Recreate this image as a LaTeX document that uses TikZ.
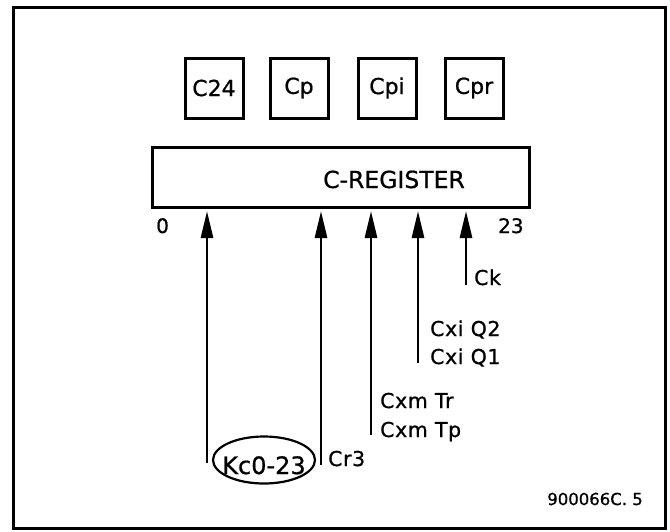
\documentclass[tikz,border=0pt]{standalone}
\usepackage{fontspec}
\setmainfont{DejaVu Sans}[FakeBold=0.8]
\newfontfamily\spacedfont{DejaVu Sans}[LetterSpace=3,FakeBold=0.8]
\usetikzlibrary{arrows.meta,shapes.geometric}
\begin{document}
\begin{tikzpicture}[x=1pt,y=-1pt,
  frame/.style={line width=3pt},
  cbox/.style={draw,line width=3pt,minimum width=58pt,minimum height=60pt,inner sep=0pt,font=\fontsize{22}{26}\selectfont},
  reg/.style={draw,line width=3pt,minimum width=377pt,minimum height=60pt,inner sep=0pt},
  sig/.style={line width=2.7pt,-{Triangle[length=27pt,width=12pt]}},
  lbl/.style={anchor=base west,inner sep=0pt,font=\spacedfont\fontsize{20.5}{24}\selectfont},
  num/.style={inner sep=0pt,font=\fontsize{20}{24}\selectfont},
]
\useasboundingbox (0,0) rectangle (670,531);
\draw[frame] (13,7) rectangle (665,528);
% top boxes
\node[cbox] (c24) at (214,88) {C24};
\node[cbox] (cp) at (299,88) {Cp};
\node[cbox] (cpi) at (387,88) {Cpi};
\node[cbox] (cpr) at (474,88) {Cpr};
% register
\node[reg] (reg) at (340.5,177) {};
\node[inner sep=0pt,anchor=base,font=\fontsize{23.5}{28}\selectfont] (regtxt) at (394,188) {C-REGISTER};
\node[num,anchor=base west] (n0) at (156,233) {0};
\node[num,anchor=base west] (n23) at (498,233) {23};
% arrow end points
\coordinate (t1) at (207,211);
\coordinate (t2) at (321,211);
\coordinate (t3) at (371,211);
\coordinate (t4) at (418,211);
\coordinate (t5) at (466,211);
\coordinate (s1) at (207,463);
\coordinate (s2) at (321,465);
\coordinate (s3) at (371,435);
\coordinate (s4) at (418,363);
\coordinate (s5) at (466,285);
\draw[sig] (s1) -- (t1);
\draw[sig] (s2) -- (t2);
\draw[sig] (s3) -- (t3);
\draw[sig] (s4) -- (t4);
\draw[sig] (s5) -- (t5);
% labels
\node[lbl] (ck) at (474,285) {Ck};
\node[lbl] (cxq2) at (430,336) {Cxi Q2};
\node[lbl] (cxq1) at (430,364) {Cxi Q1};
\node[lbl] (cxtr) at (380,408) {Cxm Tr};
\node[lbl] (cxtp) at (380,437) {Cxm Tp};
\node[lbl] (cr3) at (328,466) {Cr3};
\node[draw,ellipse,line width=2.2pt,minimum width=102pt,minimum height=47pt,inner sep=0pt,
  font=\fontsize{24}{26}\selectfont] (kc) at (264,460)
  {\raisebox{-14pt}[0pt][0pt]{\makebox[0pt]{Kc0-23}}};
\node[inner sep=0pt,anchor=base east,font=\fontsize{16.5}{20}\selectfont] (fig) at (643,505) {900066C. 5};
\end{tikzpicture}
\end{document}
